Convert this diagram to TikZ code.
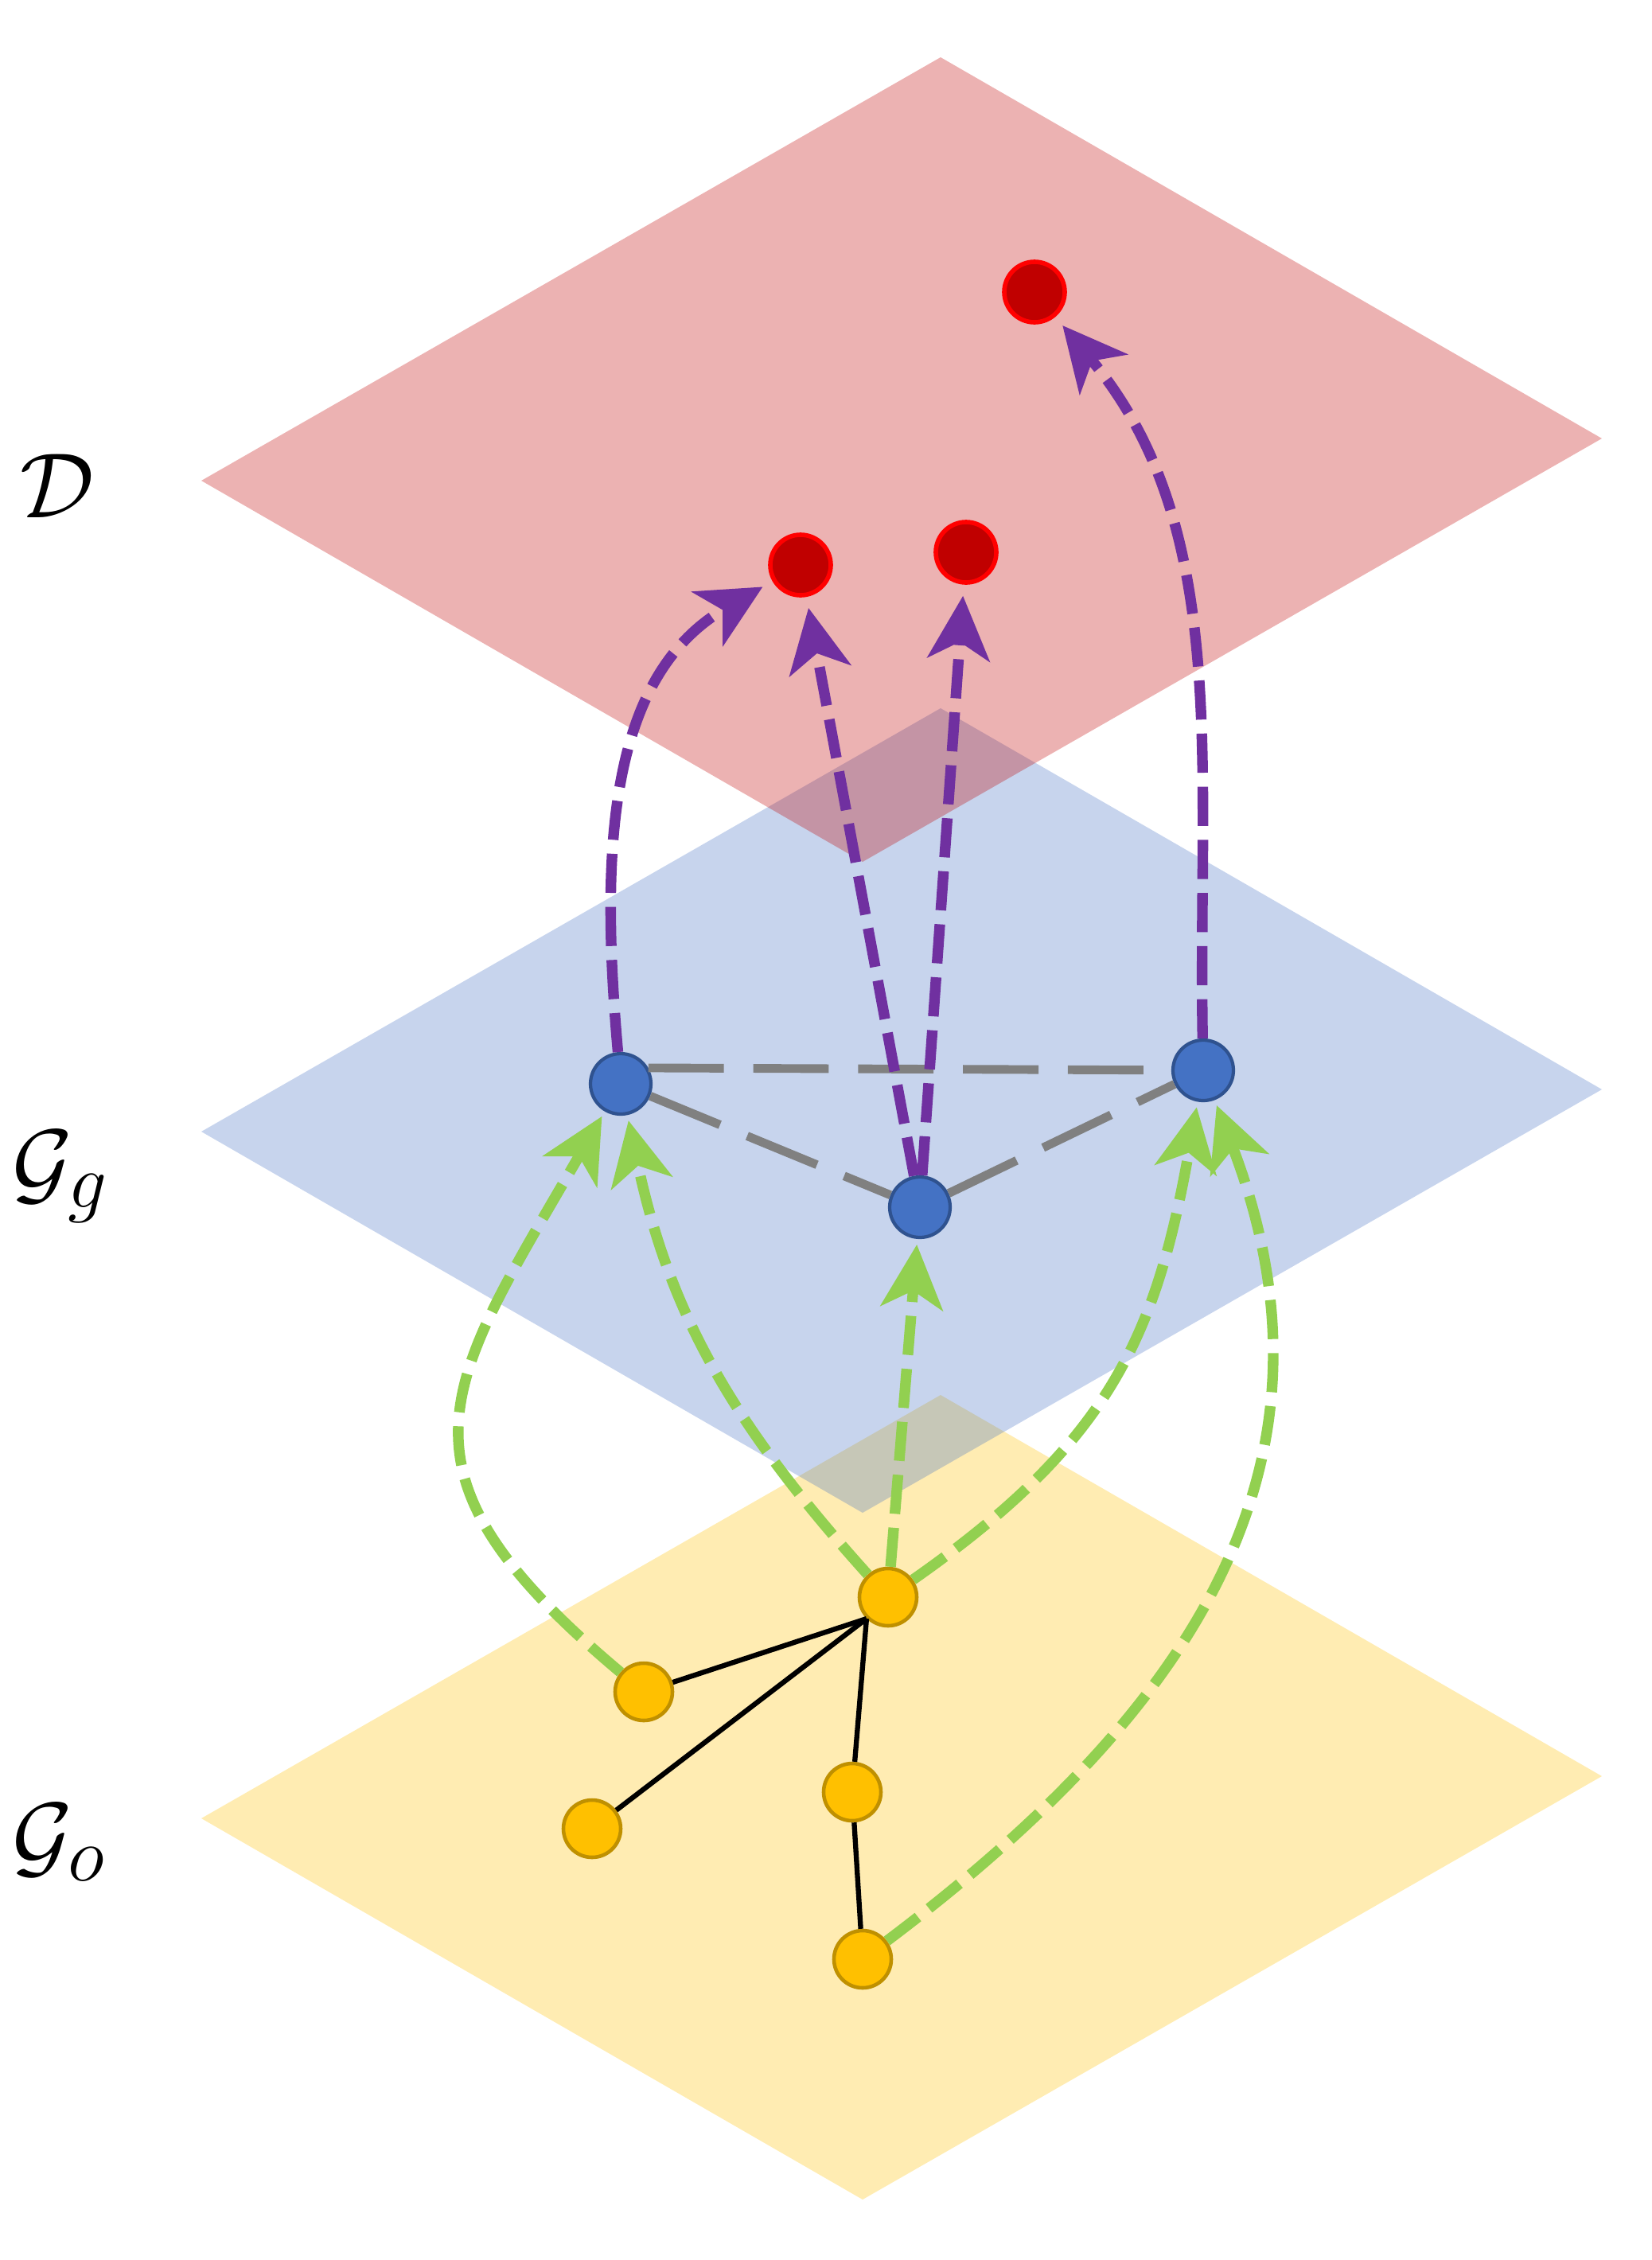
\documentclass[tikz,border=0pt]{standalone}
\usetikzlibrary{arrows.meta}
\definecolor{accblue}{HTML}{4472C4}
\definecolor{accbluedark}{HTML}{2F528F}
\definecolor{accgold}{HTML}{FFC000}
\definecolor{accgolddark}{HTML}{BF9000}
\definecolor{accred}{HTML}{C00000}
\definecolor{accgreen}{HTML}{92D050}
\definecolor{accpurple}{HTML}{7030A0}
\definecolor{accgray}{HTML}{808080}
\begin{document}
\begin{tikzpicture}[
  gnode/.style = {circle, draw=accbluedark, fill=accblue, line width=1.2pt, minimum size=7.6mm, inner sep=0pt},
  onode/.style = {circle, draw=accgolddark, fill=accgold, line width=1.3pt, minimum size=7.2mm, inner sep=0pt},
  dnode/.style = {circle, draw=red, fill=accred, line width=1.6pt, minimum size=7.6mm, inner sep=0pt},
  lift/.style = {accgreen, line width=3.8pt, dash pattern=on 14pt off 5pt, -{Stealth[length=8mm, width=7.8mm, inset=2.2mm]}, shorten >=2pt},
  map/.style = {accpurple, line width=3.8pt, dash pattern=on 14pt off 5pt, -{Stealth[length=8mm, width=7.8mm, inset=2.2mm]}, shorten >=4pt},
  tree/.style = {line width=1.8pt},
  rel/.style = {accgray, line width=3.1pt, dash pattern=on 27pt off 10.5pt},
  lbl/.style = {anchor=base west, inner sep=0pt, font=\Huge, scale=1.33}
]
  \useasboundingbox (0,0) rectangle (20.76,-28.40);
  % the three layers
  \foreach \dy/\col in {-16.81/accgold, -8.18/accblue, 0/accred}
    \fill[\col, fill opacity=0.3, yshift=\dy cm] (11.82,-0.72) -- (20.13,-5.51) -- (10.84,-10.83) -- (2.53,-6.04) -- cycle;
  \node[lbl] (ld) at (0.25,-6.50) {$\mathcal{D}$};
  \node[lbl] (lg) at (0.15,-15.00) {$\mathcal{G}_g$};
  \node[lbl] (lo) at (0.15,-23.46) {$\mathcal{G}_o$};
  % nodes
  \node[dnode] (d1) at (13.00,-3.67) {};
  \node[dnode] (d2) at (10.06,-7.10) {};
  \node[dnode] (d3) at (12.14,-6.94) {};
  \node[gnode] (g1) at (7.80,-13.62) {};
  \node[gnode] (g2) at (11.56,-15.17) {};
  \node[gnode] (g3) at (15.12,-13.45) {};
  \node[onode] (o1) at (11.16,-20.07) {};
  \node[onode] (o2) at (8.09,-21.26) {};
  \node[onode] (o3) at (7.44,-22.98) {};
  \node[onode] (o4) at (10.71,-22.52) {};
  \node[onode] (o5) at (10.84,-24.62) {};
  % edges
  \draw[tree] (o1.225) -- (o2);
  \draw[tree] (o1.225) -- (o3);
  \draw[tree] (o1.225) -- (o4);
  \draw[tree] (o4) -- (o5);
  \draw[rel] (g1.30) -- (g3);
  \draw[rel] (g1) -- (g2);
  \draw[rel] (g2) -- (g3);
  \draw[lift] (o2) to[out=140, in=240, looseness=1.45] (g1);
  \draw[lift] (o1) to[out=132, in=282] (g1);
  \draw[lift] (o1) -- (g2);
  \draw[lift] (o1) to[out=35, in=260, looseness=1.1] (g3);
  \draw[lift] (o5) to[out=37, in=291, looseness=1.1] (g3);
  \draw[map] (g1) to[out=95, in=210] (d2);
  \draw[map] (g2) -- (d2);
  \draw[map] (g2) -- (d3);
  \draw[map] (g3) to[out=91, in=-50, looseness=0.95] (d1);
\end{tikzpicture}
\end{document}
